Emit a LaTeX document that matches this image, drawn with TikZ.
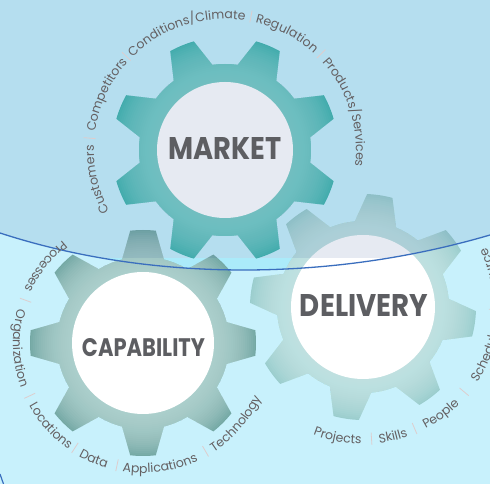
\documentclass[tikz,border=0pt]{standalone}
\usepackage{fontspec}
\usepackage{graphicx}
\setmainfont{Poppins}
\usetikzlibrary{decorations.text}
\definecolor{bgcol}{RGB}{200,241,252}
\definecolor{tintcol}{RGB}{50,90,150}
\definecolor{bandcol}{RGB}{128,228,248}
\definecolor{linecol}{RGB}{58,110,190}
\definecolor{mklight}{RGB}{140,216,210}
\definecolor{mkdark}{RGB}{68,183,176}
\definecolor{cplight}{RGB}{190,222,219}
\definecolor{cpdark}{RGB}{116,168,164}
\definecolor{dvlight}{RGB}{206,236,236}
\definecolor{dvdark}{RGB}{154,205,205}
\definecolor{ringtext}{RGB}{100,96,98}
\definecolor{titletext}{RGB}{93,94,98}
\definecolor{sepcol}{RGB}{222,205,205}
\newcommand\ringfmt{\fontsize{12.5pt}{15pt}\selectfont\color{ringtext}}
\newcommand\ringcw[3]{\path[decorate, decoration={text along path, text align=center, text={|\ringfmt|#3}}] ({#1+40}:#2) arc[start angle={#1+40}, end angle={#1-40}, radius=#2];}
\newcommand\ringccw[3]{\path[decorate, decoration={text along path, text align=center, text={|\ringfmt|#3}}] ({#1-40}:#2) arc[start angle={#1-40}, end angle={#1+40}, radius=#2];}
\newcommand\ringsep[3]{\draw[sepcol, line width=0.8pt] (#1:#2) -- (#1:#3);}
% #1 tooth offset, #2 light colour, #3 dark colour, #4 hole radius
\newcommand\gearbody[4]{%
  \begin{scope}
    \clip[gear=#1];
    \fill[#3] (-120,-120) rectangle (120,120);
    \foreach \rr in {112,110,...,66}{\fill[#2, opacity=0.08] (0,0) circle[radius=\rr pt];}
  \end{scope}
  \fill[white] (0,0) circle[radius=#4];}
\tikzset{
  gear/.style={insert path={({#1-14}:86pt) \foreach \k in {0,...,7}{ -- ({#1+45*\k-14}:86pt) -- ({#1+45*\k-6.5}:113pt) arc[start angle={#1+45*\k-6.5}, end angle={#1+45*\k+6.5}, radius=113pt] -- ({#1+45*\k+14}:86pt) arc[start angle={#1+45*\k+14}, end angle={#1+45*\k+31}, radius=86pt]} -- cycle}},
  title/.style={inner sep=0pt, text=titletext, font=\bfseries}
}
\begin{document}
\begin{tikzpicture}[x=1pt, y=1pt]
\useasboundingbox (0,0) rectangle (490,484);
\clip (0,0) rectangle (490,484);
\fill[bgcol] (0,0) rectangle (490,484);
% bright band just above the curve
\begin{scope}
  \clip (0,251) .. controls (150,202) and (330,202) .. (490,249) -- (490,484) -- (0,484) -- cycle;
  \fill[bandcol, opacity=0.4] (0,150) rectangle (490,226);
\end{scope}
% gears
\begin{scope}[shift={(363,177)}]
  \gearbody{36.4}{dvlight}{dvdark}{72pt}
\end{scope}
\begin{scope}[shift={(143,141)}]
  \gearbody{0}{cplight}{cpdark}{71pt}
\end{scope}
\begin{scope}[shift={(225,334)}]
  \gearbody{22.5}{mklight}{mkdark}{68pt}
\end{scope}
% tint of the upper part
\begin{scope}
  \clip (0,251) .. controls (150,202) and (330,202) .. (490,249) -- (490,484) -- (0,484) -- cycle;
  \fill[tintcol, opacity=0.12] (0,226) rectangle (490,484);
\end{scope}
\draw[linecol, line width=1.3pt] (0,251) .. controls (150,202) and (330,202) .. (490,249);
\draw[linecol, line width=1.2pt] (0,10) .. controls (1.5,5) .. (3.5,0);
% titles
\node[title] (mk) at (225,335) {\resizebox{113pt}{22pt}{MARKET}};
\node[title] (cp) at (143.5,136.5) {\resizebox{123pt}{18pt}{CAPABILITY}};
\node[title] (dv) at (364,178) {\resizebox{128pt}{22pt}{DELIVERY}};
% market ring
\begin{scope}[shift={(225,334)}]
  \ringcw{193}{131pt}{Customers}
  \ringcw{155}{131pt}{Competitors}
  \ringcw{108}{131pt}{Conditions/Climate}
  \ringcw{62}{131pt}{Regulation}
  \ringcw{17.5}{131pt}{Products/Services}
  \ringsep{175}{130pt}{142pt}
  \ringsep{136.5}{130pt}{142pt}
  \ringsep{79}{130pt}{142pt}
  \ringsep{45}{130pt}{142pt}
\end{scope}
% capability ring
\begin{scope}[shift={(143,141)}]
  \ringccw{142}{130pt}{Processes}
  \ringccw{182.5}{130pt}{Organization}
  \ringccw{222}{130pt}{Locations}
  \ringccw{247}{130pt}{Data}
  \ringccw{278}{130pt}{Applications}
  \ringccw{319}{130pt}{Technology}
  \ringsep{160}{131pt}{119pt}
  \ringsep{205}{131pt}{119pt}
  \ringsep{237}{131pt}{119pt}
  \ringsep{258}{131pt}{119pt}
  \ringsep{300}{131pt}{119pt}
\end{scope}
% delivery ring
\begin{scope}[shift={(363,177)}]
  \ringccw{259}{137pt}{Projects}
  \ringccw{283}{137pt}{Skills}
  \ringccw{306}{137pt}{People}
  \ringccw{340}{137pt}{Schedules}
  \ringccw{13.5}{137pt}{Resource}
  \ringsep{273.7}{138pt}{126pt}
  \ringsep{293}{138pt}{126pt}
  \ringsep{320}{138pt}{126pt}
  \ringsep{359}{138pt}{126pt}
\end{scope}
\end{tikzpicture}
\end{document}
